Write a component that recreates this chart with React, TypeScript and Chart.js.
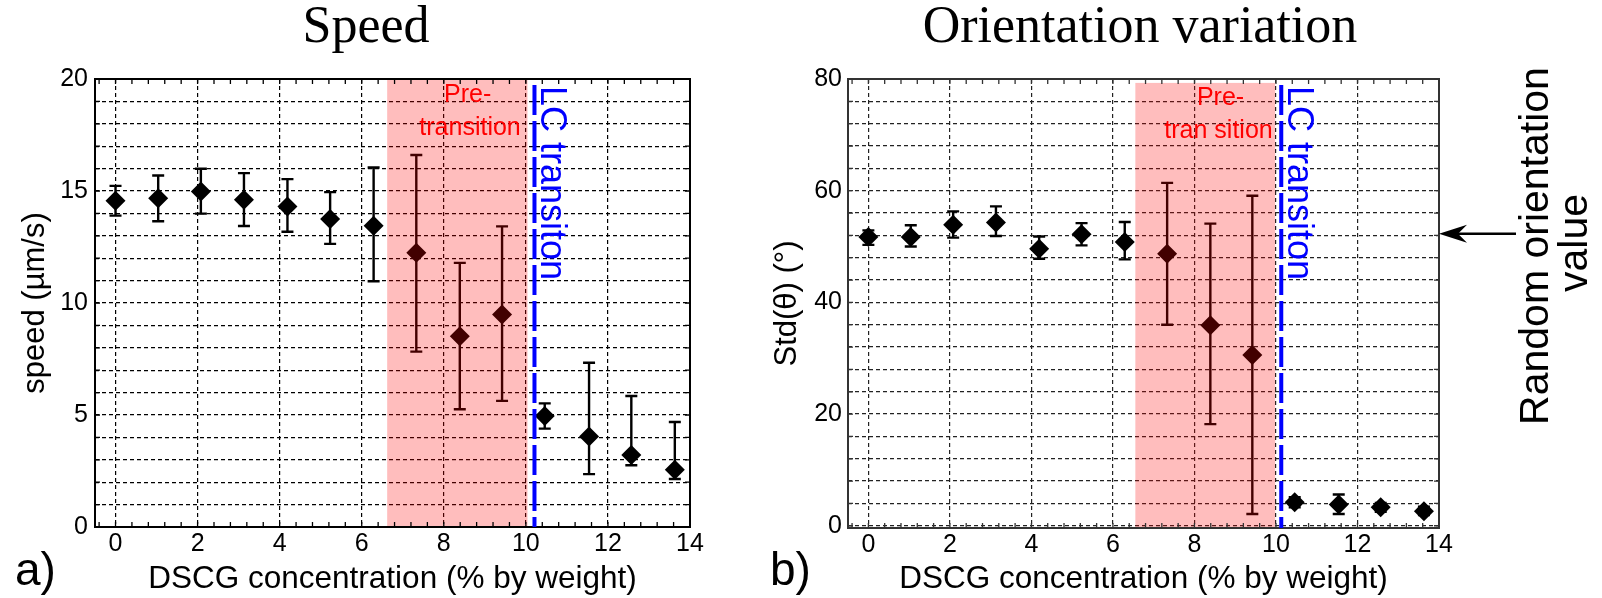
import React, { useEffect, useRef } from 'react';
import { Chart, registerables } from 'chart.js';

Chart.register(...registerables);

const SANS = '"Liberation Sans", Arial, Helvetica, sans-serif';
const SERIF = '"Liberation Serif", "Times New Roman", Times, serif';

// DSCG concentration (% by weight) of each sample
const concentration = [0, 1.04, 2.08, 3.13, 4.19, 5.23, 6.29, 7.33, 8.39, 9.42, 10.46, 11.54, 12.57, 13.63];

// Panel a: speed (µm/s)
const speedMean = [14.57, 14.68, 14.98, 14.61, 14.31, 13.75, 13.45, 12.24, 8.52, 9.49, 4.96, 4.04, 3.21, 2.56];
const speedUpper = [15.23, 15.69, 15.99, 15.8, 15.53, 14.95, 16.05, 16.61, 11.79, 13.42, 5.52, 7.33, 5.85, 4.69];
const speedLower = [13.9, 13.65, 13.99, 13.44, 13.18, 12.64, 10.97, 7.83, 5.26, 5.63, 4.39, 2.36, 2.76, 2.14];

// Panel b: Std(theta) (deg)
const stdMean = [51.7, 51.7, 53.9, 54.3, 49.6, 52.2, 50.8, 48.7, 35.9, 30.6, 4.2, 3.8, 3.3, 2.6];
const stdUpper = [52.9, 53.8, 56.3, 57.2, 51.8, 54.2, 54.4, 61.4, 54.1, 59.1, 5.1, 5.6, 4.1, 3.4];
const stdLower = [50.3, 50.0, 51.6, 51.9, 47.8, 50.2, 47.7, 36.0, 18.2, 2.1, 3.3, 2.1, 2.5, 1.9];

// Axis ticks
const xTicks = [0, 2, 4, 6, 8, 10, 12, 14];
const speedTicks = [0, 1, 2, 3, 4, 5, 6, 7, 8, 9, 10, 11, 12, 13, 14, 15, 16, 17, 18, 19, 20];
const speedLabels = [0, 5, 10, 15, 20];
const stdTicks = [0, 4, 8, 12, 16, 20, 24, 28, 32, 36, 40, 44, 48, 52, 56, 60, 64, 68, 72, 76, 80];
const stdLabels = [0, 20, 40, 60, 80];
const xMinorStep = 0.4;

// Annotated regions
const preTransitionA = [6.62, 10.04];
const lcTransitionA = 10.21;
const preTransitionB = [6.55, 9.98];
const lcTransitionB = 10.13;
const preTopB = 79.3;
const randomOrientationValue = 52.3;

type Spec = {
  key: string;
  left: number;
  width: number;
  padRight: number;
  yWidth: number;
  xHeight: number;
  yMin: number;
  yMax: number;
  yTicks: number[];
  yLabels: number[];
  yTitle: string;
  yTitlePad: number;
  yTickPad: number;
  mean: number[];
  upper: number[];
  lower: number[];
  pre: number[];
  preTop: number | null;
  lc: number;
  preLines: { text: string; x: number; dy: number }[];
  title: string;
  titleX: number;
  panelLabel: string;
  panelLabelX: number;
  gridColor: string;
  boxColor: string;
  annotate: boolean;
};

const specs: Spec[] = [
  {
    key: 'a',
    left: 0,
    width: 760,
    padRight: 70,
    yWidth: 95,
    xHeight: 71,
    yMin: 0,
    yMax: 20,
    yTicks: speedTicks,
    yLabels: speedLabels,
    yTitle: 'speed (\u00b5m/s)',
    yTitlePad: 20,
    yTickPad: 7,
    mean: speedMean,
    upper: speedUpper,
    lower: speedLower,
    pre: preTransitionA,
    preTop: null,
    lc: lcTransitionA,
    preLines: [
      { text: 'Pre-', x: 8.58, dy: 23 },
      { text: 'transition', x: 8.64, dy: 56 },
    ],
    title: 'Speed',
    titleX: 366,
    panelLabel: 'a)',
    panelLabelX: 15,
    gridColor: '#000',
    boxColor: '#000',
    annotate: false,
  },
  {
    key: 'b',
    left: 760,
    width: 842,
    padRight: 163,
    yWidth: 88,
    xHeight: 70,
    yMin: -0.4,
    yMax: 80,
    yTicks: stdTicks,
    yLabels: stdLabels,
    yTitle: 'Std(\u03b8) (\u00b0)',
    yTitlePad: 12,
    yTickPad: 6,
    mean: stdMean,
    upper: stdUpper,
    lower: stdLower,
    pre: preTransitionB,
    preTop: preTopB,
    lc: lcTransitionB,
    preLines: [
      { text: 'Pre-', x: 8.64, dy: 26 },
      { text: 'tran sition', x: 8.59, dy: 59 },
    ],
    title: 'Orientation variation',
    titleX: 380,
    panelLabel: 'b)',
    panelLabelX: 10,
    gridColor: '#222',
    boxColor: '#333',
    annotate: true,
  },
];

function makePlugin(s: Spec) {
  return {
    id: 'decor_' + s.key,
    beforeDatasetsDraw(chart: any) {
      const { ctx } = chart;
      const xs = chart.scales.x;
      const ys = chart.scales.y;
      ctx.save();
      ctx.strokeStyle = '#000';
      ctx.lineWidth = 2.4;
      for (let i = 0; i < concentration.length; i++) {
        const px = xs.getPixelForValue(concentration[i]);
        const pt = ys.getPixelForValue(s.upper[i]);
        const pb = ys.getPixelForValue(s.lower[i]);
        ctx.beginPath();
        ctx.moveTo(px, pt);
        ctx.lineTo(px, pb);
        ctx.moveTo(px - 6, pt);
        ctx.lineTo(px + 6, pt);
        ctx.moveTo(px - 6, pb);
        ctx.lineTo(px + 6, pb);
        ctx.stroke();
      }
      ctx.restore();
    },
    afterDatasetsDraw(chart: any) {
      const { ctx, chartArea: ca } = chart;
      const xs = chart.scales.x;
      const ys = chart.scales.y;
      ctx.save();

      // pre-transition shaded region (drawn over the data, translucent red)
      const x0 = xs.getPixelForValue(s.pre[0]);
      const x1 = xs.getPixelForValue(s.pre[1]);
      const yTop = s.preTop === null ? ca.top : ys.getPixelForValue(s.preTop);
      ctx.fillStyle = 'rgba(255,0,0,0.26)';
      ctx.fillRect(x0, yTop, x1 - x0, ca.bottom - yTop);

      // box
      ctx.strokeStyle = s.boxColor;
      ctx.lineWidth = 2;
      ctx.strokeRect(ca.left, ca.top, ca.right - ca.left, ca.bottom - ca.top);

      // minor ticks
      ctx.lineWidth = 1.3;
      ctx.beginPath();
      for (let v = -0.4; v <= 14.001; v += xMinorStep) {
        const px = xs.getPixelForValue(v);
        if (px < ca.left + 1 || px > ca.right - 1) continue;
        ctx.moveTo(px, ca.bottom);
        ctx.lineTo(px, ca.bottom - 5);
        ctx.moveTo(px, ca.top);
        ctx.lineTo(px, ca.top + 5);
      }
      for (const v of s.yTicks) {
        const py = ys.getPixelForValue(v);
        ctx.moveTo(ca.left, py);
        ctx.lineTo(ca.left + 5, py);
        ctx.moveTo(ca.right, py);
        ctx.lineTo(ca.right - 5, py);
      }
      ctx.stroke();

      // LC transition dashed blue line
      const xl = xs.getPixelForValue(s.lc);
      ctx.strokeStyle = '#0000ff';
      ctx.lineWidth = 4;
      ctx.setLineDash([30, 6]);
      ctx.beginPath();
      ctx.moveTo(xl, ca.top + 6);
      ctx.lineTo(xl, ca.bottom);
      ctx.stroke();
      ctx.setLineDash([]);

      // LC transition label
      ctx.save();
      ctx.translate(xl + 7, ca.top + 7);
      ctx.rotate(Math.PI / 2);
      ctx.fillStyle = '#0000ff';
      ctx.font = `36px ${SANS}`;
      ctx.textAlign = 'left';
      ctx.textBaseline = 'alphabetic';
      ctx.fillText('LC transiton', 0, 0);
      ctx.restore();

      // Pre-transition label
      ctx.fillStyle = '#ff0000';
      ctx.font = `25px ${SANS}`;
      ctx.textAlign = 'center';
      ctx.textBaseline = 'alphabetic';
      for (const line of s.preLines) {
        ctx.fillText(line.text, xs.getPixelForValue(line.x), ca.top + line.dy);
      }

      // panel title
      ctx.fillStyle = '#000';
      ctx.font = `52px ${SERIF}`;
      ctx.textAlign = 'center';
      ctx.fillText(s.title, s.titleX, 42);

      // panel letter
      ctx.font = `46px ${SANS}`;
      ctx.textAlign = 'left';
      ctx.fillText(s.panelLabel, s.panelLabelX, 585);

      if (s.annotate) {
        const ya = ys.getPixelForValue(randomOrientationValue);
        const tip = ca.right;
        ctx.strokeStyle = '#000';
        ctx.lineWidth = 2.5;
        ctx.beginPath();
        ctx.moveTo(tip + 12, ya);
        ctx.lineTo(tip + 77, ya);
        ctx.stroke();
        ctx.fillStyle = '#000';
        ctx.beginPath();
        ctx.moveTo(tip, ya);
        ctx.lineTo(tip + 28, ya - 9);
        ctx.lineTo(tip + 19, ya);
        ctx.lineTo(tip + 28, ya + 9);
        ctx.closePath();
        ctx.fill();

        ctx.font = `41px ${SANS}`;
        ctx.textAlign = 'center';
        ctx.textBaseline = 'alphabetic';
        ctx.save();
        ctx.translate(tip + 109, 246);
        ctx.rotate(-Math.PI / 2);
        ctx.fillText('Random orientation', 0, 0);
        ctx.restore();
        ctx.save();
        ctx.translate(tip + 148, 243);
        ctx.rotate(-Math.PI / 2);
        ctx.fillText('value', 0, 0);
        ctx.restore();
      }
      ctx.restore();
    },
  };
}

function buildConfig(s: Spec): any {
  return {
    type: 'scatter',
    data: {
      datasets: [
        {
          data: concentration.map((x, i) => ({ x, y: s.mean[i] })),
          pointStyle: 'rectRot',
          pointRadius: 10,
          pointHoverRadius: 10,
          backgroundColor: '#000',
          borderColor: '#000',
          borderWidth: 0,
          showLine: false,
        },
      ],
    },
    options: {
      responsive: false,
      animation: false,
      devicePixelRatio: 1,
      events: [],
      layout: { padding: { left: 0, right: s.padRight, top: 79, bottom: 0 } },
      plugins: {
        legend: { display: false },
        tooltip: { enabled: false },
        title: { display: false },
      },
      scales: {
        x: {
          type: 'linear',
          position: 'bottom',
          min: -0.5,
          max: 14,
          afterBuildTicks: (scale: any) => {
            scale.ticks = xTicks.map((v) => ({ value: v }));
          },
          afterFit: (scale: any) => {
            scale.height = s.xHeight;
          },
          grid: { color: s.gridColor, lineWidth: 1.2, drawTicks: false },
          border: { display: false, dash: [4, 3] },
          ticks: {
            autoSkip: false,
            maxRotation: 0,
            padding: 5,
            color: '#000',
            font: { family: SANS, size: 25, lineHeight: 1 },
          },
          title: {
            display: true,
            text: 'DSCG concentration (% by weight)',
            color: '#000',
            font: { family: SANS, size: 31.5, lineHeight: 1 },
            padding: { top: 0, bottom: 3 },
          },
        },
        y: {
          type: 'linear',
          position: 'left',
          min: s.yMin,
          max: s.yMax,
          afterBuildTicks: (scale: any) => {
            scale.ticks = s.yTicks.map((v) => ({ value: v }));
          },
          afterFit: (scale: any) => {
            scale.width = s.yWidth;
          },
          grid: { color: s.gridColor, lineWidth: 1.2, drawTicks: false },
          border: { display: false, dash: [4, 3] },
          ticks: {
            autoSkip: false,
            padding: s.yTickPad,
            color: '#000',
            font: { family: SANS, size: 25, lineHeight: 1 },
            callback: (v: any) => (s.yLabels.includes(Number(v)) ? String(v) : ''),
          },
          title: {
            display: true,
            text: s.yTitle,
            color: '#000',
            font: { family: SANS, size: 31, lineHeight: 1 },
            padding: { top: s.yTitlePad, bottom: 0 },
          },
        },
      },
    },
    plugins: [makePlugin(s)],
  };
}

function Panel({ spec }: { spec: Spec }) {
  const ref = useRef<HTMLCanvasElement>(null);
  useEffect(() => {
    if (!ref.current) return;
    const chart = new Chart(ref.current, buildConfig(spec));
    return () => chart.destroy();
  }, [spec]);
  return (
    <canvas
      ref={ref}
      width={spec.width}
      height={598}
      style={{ position: 'absolute', left: spec.left, top: 0, width: spec.width, height: 598 }}
    />
  );
}

export default function App() {
  return (
    <div style={{ position: 'absolute', left: 0, top: 0, width: 1602, height: 598, background: '#fff', overflow: 'hidden' }}>
      {specs.map((s) => (
        <Panel key={s.key} spec={s} />
      ))}
    </div>
  );
}
